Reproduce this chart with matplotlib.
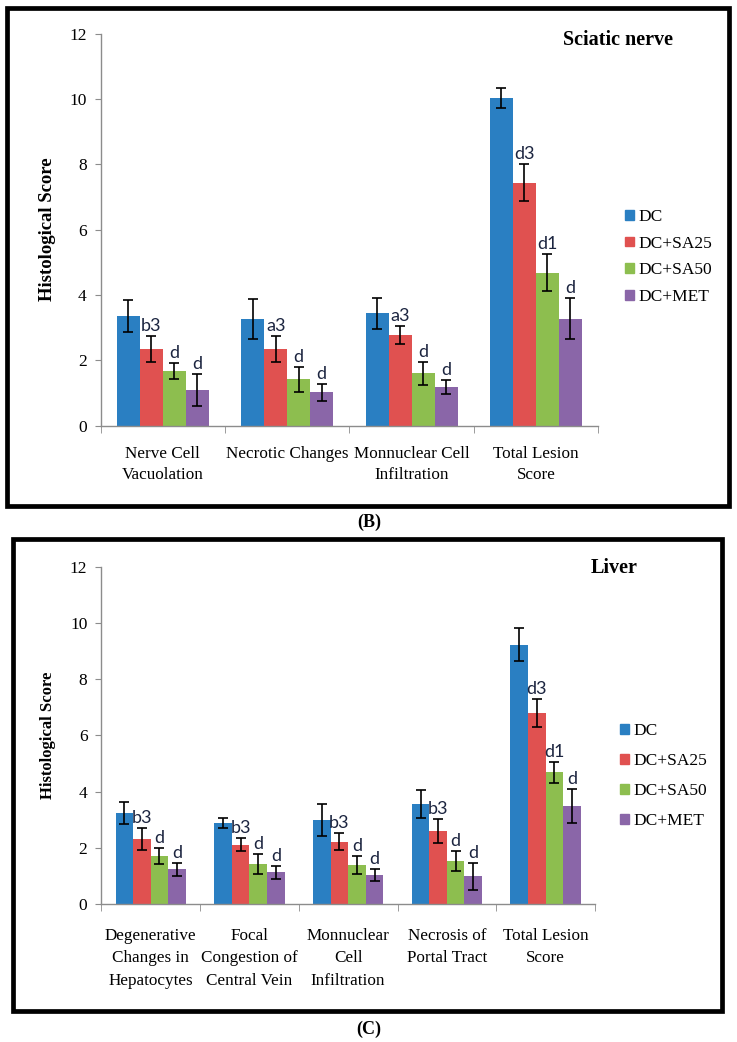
"""Histological scores: sciatic nerve (B) and liver (C)."""

import matplotlib

matplotlib.use("Agg")
import matplotlib.pyplot as plt
import numpy as np
from matplotlib.patches import Patch, Rectangle

SERIES = ["DC", "DC+SA25", "DC+SA50", "DC+MET"]
COLORS = ["#2A7FC2", "#E05150", "#8DBE4F", "#8A66A8"]

# panel B: sciatic nerve
NERVE_CATS = ["Nerve Cell\nVacuolation", "Necrotic Changes",
              "Monnuclear Cell\nInfiltration", "Total Lesion\nScore"]
NERVE_MEAN = [
    [3.35, 3.26, 3.43, 10.02],   # DC
    [2.34, 2.34, 2.76, 7.43],    # DC+SA25
    [1.67, 1.42, 1.60, 4.68],    # DC+SA50
    [1.09, 1.02, 1.18, 3.27],    # DC+MET
]
NERVE_ERR = [
    [0.48, 0.61, 0.48, 0.30],
    [0.41, 0.41, 0.28, 0.56],
    [0.24, 0.38, 0.35, 0.57],
    [0.49, 0.26, 0.22, 0.63],
]
NERVE_LABELS = [
    ["", "", "", ""],
    ["b3", "a3", "a3", "d3"],
    ["d", "d", "d", "d1"],
    ["d", "d", "d", "d"],
]

# panel C: liver
LIVER_CATS = ["Degenerative\nChanges in\nHepatocytes", "Focal\nCongestion of\nCentral Vein",
              "Monnuclear\nCell\nInfiltration", "Necrosis of\nPortal Tract", "Total Lesion\nScore"]
LIVER_MEAN = [
    [3.25, 2.88, 2.99, 3.56, 9.22],
    [2.31, 2.11, 2.22, 2.59, 6.81],
    [1.70, 1.43, 1.39, 1.54, 4.69],
    [1.23, 1.13, 1.03, 0.99, 3.50],
]
LIVER_ERR = [
    [0.39, 0.19, 0.56, 0.49, 0.59],
    [0.40, 0.24, 0.29, 0.43, 0.50],
    [0.28, 0.35, 0.33, 0.36, 0.37],
    [0.24, 0.23, 0.20, 0.48, 0.60],
]
LIVER_LABELS = [
    ["", "", "", "", ""],
    ["b3", "b3", "b3", "b3", "d3"],
    ["d", "d", "d", "d", "d1"],
    ["d", "d", "d", "d", "d"],
]

SERIF = ["Liberation Serif", "DejaVu Serif"]
LABEL_FONT = ["Lato", "DejaVu Sans"]
GRAY = "#8C8C8C"

W, H = 737, 1042
fig = plt.figure(figsize=(W / 100, H / 100), dpi=100)


def px_box(x0, x1, y_zero, y_top):
    """Axes rect from pixel coordinates (y measured from top)."""
    return [x0 / W, 1 - y_zero / H, (x1 - x0) / W, (y_zero - y_top) / H]


def draw_panel(rect, cats, means, errs, labels, bar_w, title, title_xy,
               ylabel_fs, line_sp, xpad, legend_xy, legend_sp):
    ax = fig.add_axes(rect)
    n = len(cats)
    x = np.arange(n)
    for i, name in enumerate(SERIES):
        xs = x + (i - 1.5) * bar_w
        ax.bar(xs, means[i], width=bar_w, color=COLORS[i], zorder=2)
        ax.errorbar(xs, means[i], yerr=errs[i], fmt="none", ecolor="black",
                    elinewidth=1.2, capsize=3.5, capthick=1.2, zorder=3)
        for xi, m, e, lab in zip(xs, means[i], errs[i], labels[i]):
            if lab:
                ax.annotate(lab, (xi, m + e), xytext=(0, 1.5), textcoords="offset points",
                            ha="center", va="bottom", fontsize=13,
                            family=LABEL_FONT, color="#1C2540")

    ax.set_xlim(-0.5, n - 0.5)
    ax.set_ylim(0, 12)
    ax.set_yticks(range(0, 13, 2))
    for s in ("top", "right"):
        ax.spines[s].set_visible(False)
    for s in ("left", "bottom"):
        ax.spines[s].set_color(GRAY)
        ax.spines[s].set_linewidth(1.0)
    ax.tick_params(axis="y", length=4, color=GRAY, pad=6, labelsize=12.5)
    for t in ax.get_yticklabels():
        t.set_family(SERIF)
    ax.set_xticks(x)
    ax.set_xticklabels(cats, family=SERIF, fontsize=12.3, linespacing=line_sp)
    ax.set_xticks(np.arange(-0.5, n, 1.0), minor=True)
    ax.tick_params(axis="x", which="major", length=0, pad=xpad)
    ax.tick_params(axis="x", which="minor", length=5, color=GRAY)

    fig.text(*title_xy, title, family=SERIF, fontweight="bold", fontsize=14.5,
             ha="center", va="center")
    ax.set_ylabel("Histological Score", family=SERIF, fontweight="bold",
                  fontsize=ylabel_fs)

    handles = [Patch(color=c, label=s) for c, s in zip(COLORS, SERIES)]
    fig.legend(handles=handles, loc="center left", bbox_to_anchor=legend_xy,
               frameon=False, prop={"family": SERIF, "size": 12.5},
               handlelength=0.5, handleheight=0.5, handletextpad=0.3,
               labelspacing=legend_sp, borderpad=0, borderaxespad=0)
    return ax


ax_b = draw_panel(px_box(100.7, 598, 425.5, 33.5), NERVE_CATS, NERVE_MEAN, NERVE_ERR,
                  NERVE_LABELS, 0.185, "Sciatic nerve", (618 / W, 1 - 40 / H),
                  13.5, 1.4, 15, (625 / W, 1 - 257 / H), 0.62)
ax_b.yaxis.set_label_coords(-0.09, 0.5)

ax_c = draw_panel(px_box(101.3, 595, 904, 566.8), LIVER_CATS, LIVER_MEAN, LIVER_ERR,
                  LIVER_LABELS, 0.178, "Liver", (614 / W, 1 - 568 / H),
                  12, 1.55, 17, (620 / W, 1 - 776 / H), 0.8)
ax_c.yaxis.set_label_coords(-0.092, 0.5)

# panel frames
for x0, y0, x1, y1 in [(7, 7.5, 729, 505.5), (13, 538.5, 722, 1010.5)]:
    fig.patches.append(Rectangle((x0 / W, 1 - y1 / H), (x1 - x0) / W, (y1 - y0) / H,
                                 transform=fig.transFigure, fill=False,
                                 edgecolor="black", linewidth=3.4))

fig.text(369 / W, 1 - 522 / H, "(B)", family=SERIF, fontweight="bold",
         fontsize=13, ha="center", va="center")
fig.text(369 / W, 1 - 1029 / H, "(C)", family=SERIF, fontweight="bold",
         fontsize=13, ha="center", va="center")

fig.savefig("out.png", dpi=100)
